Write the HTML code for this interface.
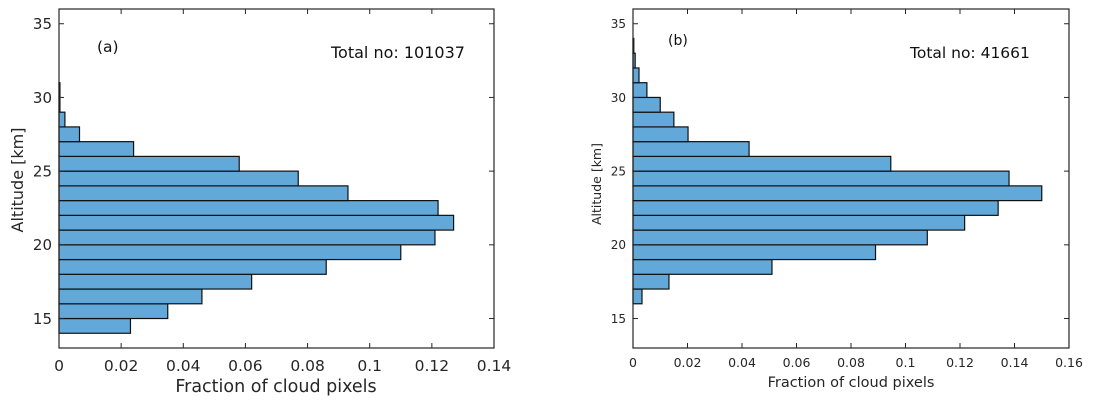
<!DOCTYPE html>
<html><head><meta charset="utf-8"><style>
body{margin:0;background:#fff;}
svg{display:block;font-family:"DejaVu Sans","Liberation Sans",sans-serif;}
</style></head><body>
<svg id="c" width="1099" height="407"></svg>
<script>
const altA=[14,15,16,17,18,19,20,21,22,23,24,25,26,27,28,29,30];
const fracA=[0.023,0.035,0.046,0.062,0.086,0.110,0.121,0.127,0.122,0.093,0.077,0.058,0.024,0.0066,0.0019,0.0003,0.0003];
const altB=[16,17,18,19,20,21,22,23,24,25,26,27,28,29,30,31,32,33];
const fracB=[0.0033,0.0132,0.051,0.089,0.108,0.1217,0.134,0.150,0.138,0.0946,0.0426,0.0202,0.015,0.010,0.0051,0.0022,0.0008,0.0003];
const xticksA=[0,0.02,0.04,0.06,0.08,0.1,0.12,0.14];
const xtickLabA=["0","0.02","0.04","0.06","0.08","0.1","0.12","0.14"];
const xticksB=[0,0.02,0.04,0.06,0.08,0.1,0.12,0.14,0.16];
const xtickLabB=["0","0.02","0.04","0.06","0.08","0.1","0.12","0.14","0.16"];
const yticks=[15,20,25,30,35];
const yLab=["15","20","25","30","35"];
const NS="http://www.w3.org/2000/svg";
const svg=document.getElementById('c');
function mk(t,a,p){const e=document.createElementNS(NS,t);for(const k in a)e.setAttribute(k,a[k]);(p||svg).appendChild(e);return e;}
function panel(o){
  const g=mk('g',{});
  
  
  const L=o.L,R=o.R,T=9,B=348,ymin=13,ymax=36;
  const X=v=>L+(v-0)/o.xmax*(R-L);
  const Y=v=>B-(v-ymin)/(ymax-ymin)*(B-T);
  for(let i=0;i<o.alt.length;i++){
    const r=mk('rect',{x:X(0),y:Y(o.alt[i]+1),width:Math.max(X(o.frac[i])-X(0),0.6),height:Y(o.alt[i])-Y(o.alt[i]+1),fill:'#62a8d9',stroke:'#111','stroke-width':1.2},g);
    
    
  }
  const f=mk('rect',{x:L,y:T,width:R-L,height:B-T,fill:'none',stroke:'#262626','stroke-width':1.2},g);
  
  
  o.xt.forEach((v,i)=>{
    const x=X(v);
    mk('line',{x1:x,x2:x,y1:B,y2:B-5,stroke:'#262626'},g);
    mk('line',{x1:x,x2:x,y1:T,y2:T+5,stroke:'#262626'},g);
    const t=mk('text',{x:x,y:o.xty,'font-size':o.fs,'text-anchor':'middle',fill:'#262626'},g);
    t.textContent=o.xl[i];
    
    
  });
  yticks.forEach((v,i)=>{
    const y=Y(v);
    mk('line',{x1:L,x2:L+5,y1:y,y2:y,stroke:'#262626'},g);
    mk('line',{x1:R,x2:R-5,y1:y,y2:y,stroke:'#262626'},g);
    const t=mk('text',{x:L-7,y:y+o.yfs*0.36,'font-size':o.yfs,'text-anchor':'end',fill:'#262626'},g);
    t.textContent=yLab[i];
    
    
  });
  const xl=mk('text',{x:o.xlx,y:o.xly,'font-size':o.xlfs,'text-anchor':'middle',fill:'#262626'},g);
  xl.textContent='Fraction of cloud pixels';
  
  
  const yl=mk('text',{x:0,y:0,'font-size':o.ylfs,'text-anchor':'middle',fill:'#262626',transform:`translate(${o.ylx},${o.yly}) rotate(-90)`},g);
  yl.textContent='Altitude [km]';
  
  
  const pl=mk('text',{x:o.plx,y:o.ply,'font-size':o.pfs,fill:'#111'},g);
  pl.textContent=o.plab;
  
  
  const tn=mk('text',{x:o.tnx,y:58,'font-size':o.tfs,fill:'#111'},g);
  tn.textContent=o.tot;
  
  
}
panel({name:'panel-a',L:59,R:494,xmax:0.14,alt:altA,frac:fracA,xt:xticksA,xl:xtickLabA,fs:15.5,yfs:15,xlfs:17.5,ylfs:16,tfs:16,pfs:15.5,xty:371,xly:392,xlx:276,ylx:23,yly:180,plx:97,ply:52,plab:'(a)',tnx:331,tot:'Total no: 101037'});
panel({name:'panel-b',L:633,R:1069,xmax:0.16,alt:altB,frac:fracB,xt:xticksB,xl:xtickLabB,fs:12.5,yfs:12,xlfs:14.5,ylfs:12.5,tfs:15.5,pfs:14,xty:367,xly:387,xlx:851,ylx:601,yly:184,plx:668,ply:45,plab:'(b)',tnx:910,tot:'Total no: 41661'});
</script>
</body></html>
